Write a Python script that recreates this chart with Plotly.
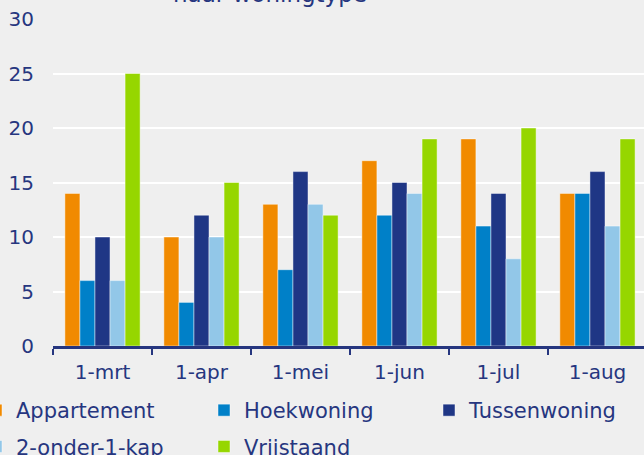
import plotly.graph_objects as go

categories = ["1-mrt", "1-apr", "1-mei", "1-jun", "1-jul", "1-aug"]
appartement = [14, 10, 13, 17, 19, 14]
hoekwoning = [6, 4, 7, 12, 11, 14]
tussenwoning = [10, 12, 16, 15, 14, 16]
twee_onder_een_kap = [6, 10, 13, 14, 8, 11]
vrijstaand = [25, 15, 12, 19, 20, 19]
y_ticks = [0, 5, 10, 15, 20, 25, 30]

series = [
    ("Appartement", appartement, "#F18A00", "legend"),
    ("Hoekwoning", hoekwoning, "#0080C8", "legend2"),
    ("Tussenwoning", tussenwoning, "#1F3685", "legend3"),
    ("2-onder-1-kap", twee_onder_een_kap, "#92C7E8", "legend"),
    ("Vrijstaand", vrijstaand, "#96D600", "legend2"),
]

navy = "#26367F"
font_family = "DejaVu Sans"

fig = go.Figure()
for name, vals, col, lg in series:
    fig.add_trace(go.Bar(
        x=categories, y=vals, name=name, legend=lg, legendgroup=name,
        marker=dict(color=col, line=dict(color="rgba(255,255,255,0.45)", width=1)),
    ))

W, H = 644, 455
ml, mr, mt, mb = 53, 0, 19, 109
pw = W - ml - mr
ph = H - mt - mb


def legend_box(text_left_px):
    return dict(
        orientation="v",
        x=(text_left_px - 41 - ml) / pw, xanchor="left",
        y=-(390 - (mt + ph)) / ph, yanchor="top",
        font=dict(family=font_family, size=21, color=navy),
        bgcolor="rgba(0,0,0,0)",
        traceorder="grouped", tracegroupgap=6,
    )


fig.update_layout(
    width=W, height=H,
    margin=dict(l=ml, r=mr, t=mt, b=mb, autoexpand=False),
    paper_bgcolor="#EFEFEF", plot_bgcolor="#EFEFEF",
    barmode="group", bargap=0.24, bargroupgap=0,
    font=dict(family=font_family, color=navy, size=20),
    showlegend=True,
    legend=legend_box(17),
    legend2=legend_box(245),
    legend3=legend_box(470),
    xaxis=dict(
        range=[-0.5, 5.47],
        showline=True, linecolor=navy, linewidth=2.5,
        ticks="outside", tickson="boundaries", ticklen=6, tickwidth=2, tickcolor=navy,
        showgrid=False, zeroline=False,
        ticklabelstandoff=6,
        tickfont=dict(family=font_family, size=20, color=navy),
    ),
    yaxis=dict(
        range=[0, 30], tickvals=y_ticks,
        showgrid=True, gridcolor="#FFFFFF", gridwidth=2,
        zeroline=False, showline=False, ticks="",
        ticklabelstandoff=18,
        tickfont=dict(family=font_family, size=20, color=navy),
    ),
)

fig.add_annotation(
    text="naar woningtype", xref="paper", yref="paper",
    x=(270 - ml) / pw, xanchor="center",
    y=1 + (mt - 9) / ph, yanchor="bottom",
    showarrow=False,
    font=dict(family=font_family, size=23, color=navy),
)

fig.write_html(
    "out.html",
    config={"displayModeBar": False},
    post_script="document.body.style.margin='0px';document.body.style.background='#EFEFEF';",
)
